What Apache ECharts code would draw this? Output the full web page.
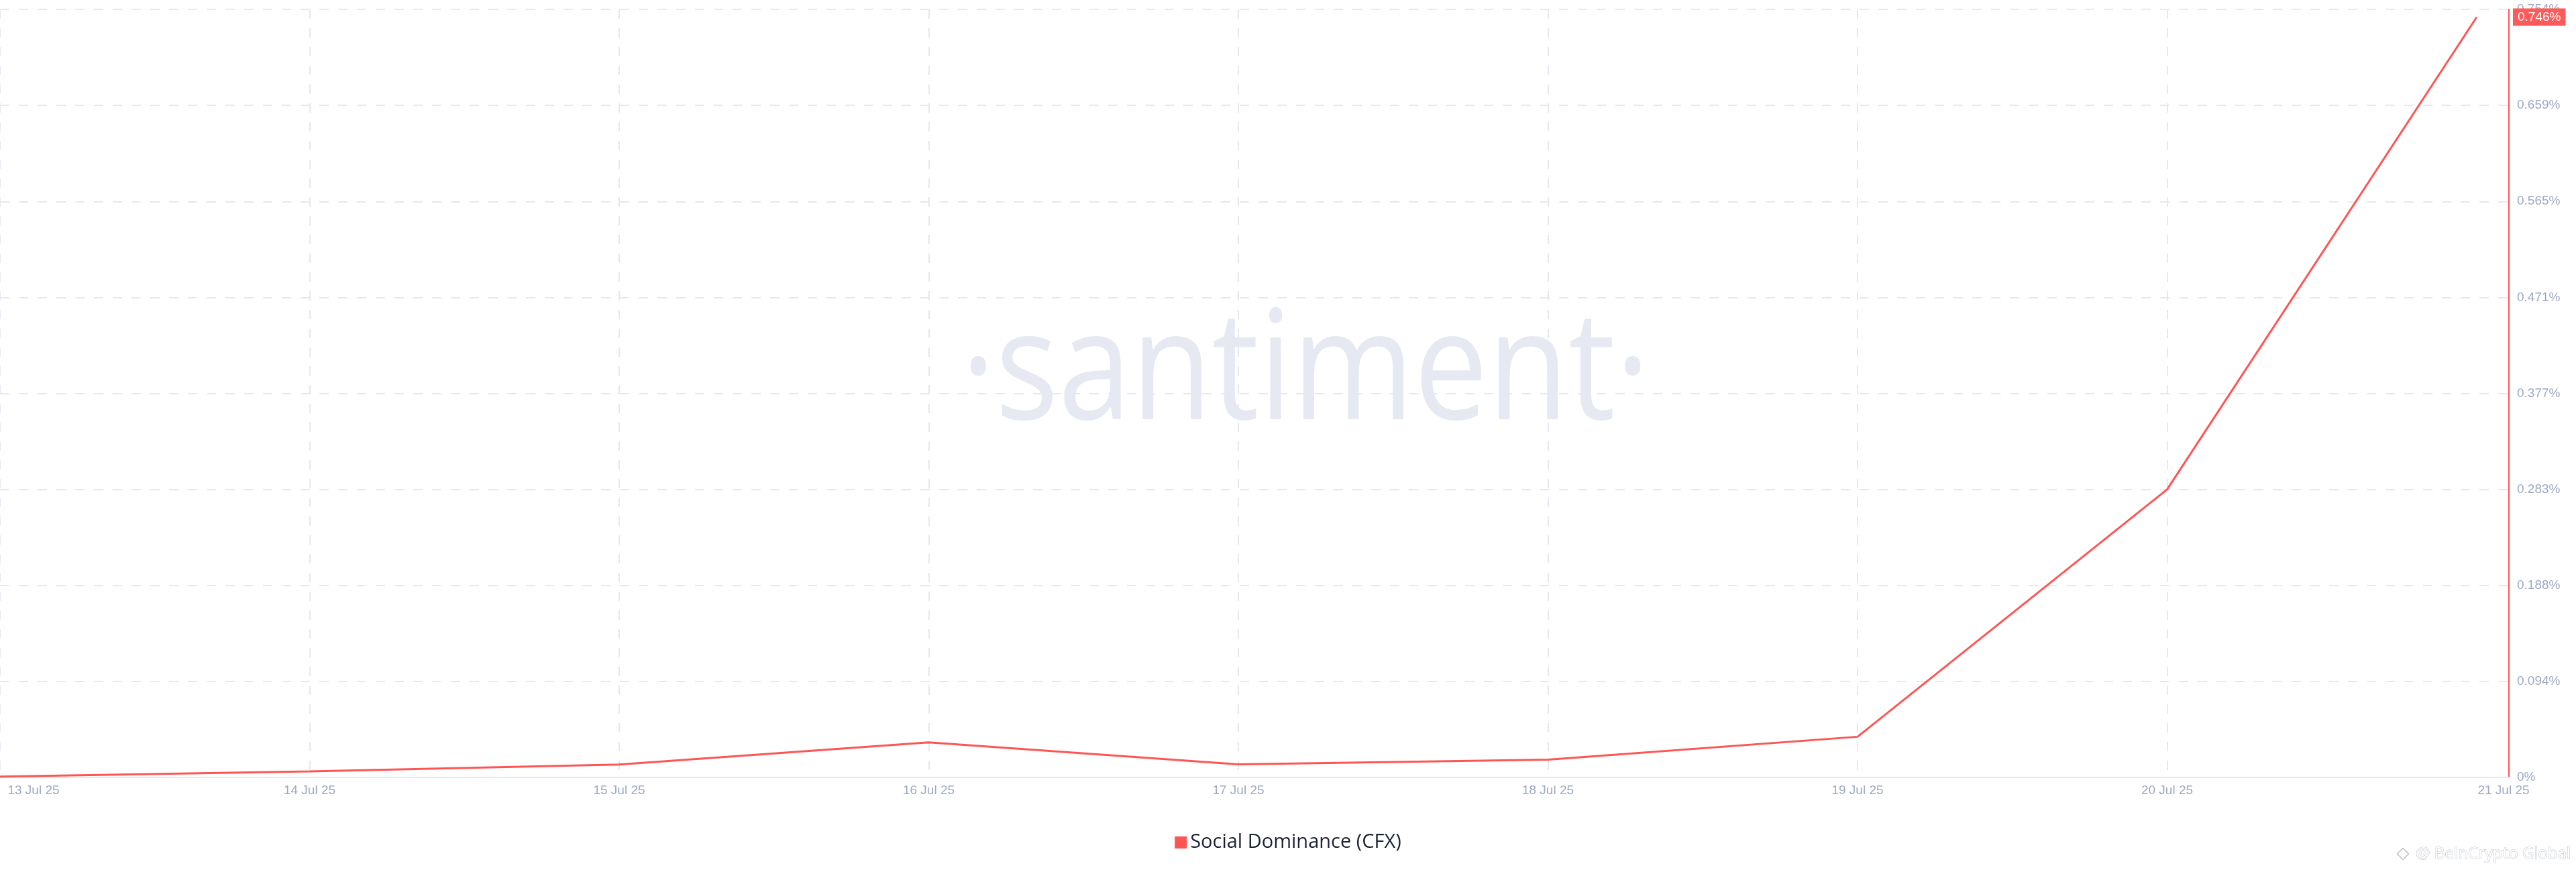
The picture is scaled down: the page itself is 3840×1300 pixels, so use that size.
<!DOCTYPE html>
<html>
<head>
<meta charset="utf-8">
<style>
  html, body { margin: 0; padding: 0; background: #ffffff; }
  #chart { width: 3840px; height: 1300px; }
</style>
<script src="https://cdn.jsdelivr.net/npm/echarts@6/dist/echarts.min.js"></script>
</head>
<body>
<div id="chart"></div>
<script>
// ---- data ----
const dates = ['13 Jul 25', '14 Jul 25', '15 Jul 25', '16 Jul 25', '17 Jul 25', '18 Jul 25', '19 Jul 25', '20 Jul 25', '21 Jul 25'];
const socialDominance = [0.0008, 0.0059, 0.0127, 0.0344, 0.0129, 0.0174, 0.0399, 0.2826, 0.746];
const yTickLabels = ['0%', '0.094%', '0.188%', '0.283%', '0.377%', '0.471%', '0.565%', '0.659%', '0.754%'];
const seriesName = 'Social Dominance (CFX)';
const watermarkText = '\u00B7santiment\u00B7';
const creditText = '@ BeInCrypto Global';

const Y_MAX = 0.7536;
const Y_INTERVAL = 0.0942;
const X_MAX = 8.104;

const RED = '#ff5454';
const GRID_COLOR = '#e5e8f1';
const LABEL_COLOR = '#9ea8c2';
const FONT = '"Liberation Sans", Arial, sans-serif';

const chart = echarts.init(document.getElementById('chart'), null, { renderer: 'canvas' });

const lastValue = socialDominance[socialDominance.length - 1];
const lastIndex = dates.length - 1;

const xSplitColors = [];
for (let i = 0; i < 12; i++) xSplitColors.push(i < lastIndex ? GRID_COLOR : 'rgba(0,0,0,0)');

const option = {
  backgroundColor: '#ffffff',
  animation: false,
  graphic: [
    {
      type: 'text',
      x: 1946,
      y: 560,
      scaleX: 0.86,
      silent: true,
      style: {
        text: watermarkText,
        font: '228px "Open Sans"',
        fill: '#e6e9f2',
        textAlign: 'center',
        textVerticalAlign: 'middle'
      }
    },
    {
      type: 'text',
      x: 3832,
      y: 1273,
      silent: true,
      style: {
        text: creditText,
        font: '24px "Open Sans"',
        fill: '#ffffff',
        stroke: '#b8bdca',
        lineWidth: 1,
        textAlign: 'right',
        textVerticalAlign: 'middle'
      }
    },
    {
      type: 'rect',
      x: 3582,
      y: 1273,
      rotation: Math.PI / 4,
      silent: true,
      shape: { x: -6, y: -6, width: 12, height: 12 },
      style: { fill: '#ffffff', stroke: '#b8bdca', lineWidth: 1.5 }
    }
  ],
  grid: {
    left: 0,
    right: 100,
    top: 14,
    bottom: 141,
    containLabel: false
  },
  legend: {
    data: [seriesName],
    left: 'center',
    top: 1236,
    icon: 'rect',
    itemWidth: 18,
    itemHeight: 18,
    itemGap: 11,
    textStyle: {
      fontFamily: '"Open Sans"',
      fontSize: 29,
      color: '#1b2236',
      lineHeight: 30
    }
  },
  xAxis: {
    type: 'value',
    min: 0,
    max: X_MAX,
    interval: 1,
    axisLine: { show: true, onZero: false, lineStyle: { color: GRID_COLOR, width: 2 } },
    axisTick: { show: false },
    splitLine: {
      show: true,
      showMaxLine: false,
      lineStyle: { color: xSplitColors, width: 2, type: [14, 14] }
    },
    axisLabel: {
      margin: 10,
      color: LABEL_COLOR,
      fontFamily: FONT,
      fontSize: 19,
      formatter: function (value) {
        if (!Number.isInteger(value) || value < 0 || value > lastIndex) return '';
        const txt = dates[value];
        if (value === 0) return '{first|' + txt + '}';
        if (value === lastIndex) return '{last|' + txt + '}';
        return txt;
      },
      rich: {
        first: { padding: [0, 0, 0, 100], color: LABEL_COLOR, fontSize: 19, fontFamily: FONT },
        last: { padding: [0, 0, 0, 80], color: LABEL_COLOR, fontSize: 19, fontFamily: FONT }
      }
    }
  },
  yAxis: {
    type: 'value',
    position: 'right',
    min: 0,
    max: Y_MAX,
    interval: Y_INTERVAL,
    axisLine: { show: true, onZero: false, lineStyle: { color: RED, width: 2 } },
    axisTick: { show: false },
    splitLine: {
      show: true,
      lineStyle: { color: GRID_COLOR, width: 2, type: [14, 14] }
    },
    axisLabel: {
      margin: 12,
      color: LABEL_COLOR,
      fontFamily: FONT,
      fontSize: 19,
      formatter: function (value, index) {
        if (yTickLabels[index] !== undefined) return yTickLabels[index];
        return value === 0 ? '0%' : value.toFixed(3) + '%';
      }
    }
  },
  series: [
    {
      name: seriesName,
      type: 'line',
      data: dates.map(function (d, i) { return [i, socialDominance[i]]; }),
      symbol: 'none',
      showSymbol: false,
      clip: false,
      itemStyle: { color: RED },
      lineStyle: { color: RED, width: 3 },
      z: 3,
      markLine: {
        silent: true,
        symbol: ['none', 'none'],
        lineStyle: { color: 'rgba(255,255,255,0)', width: 1, type: 'solid' },
        data: [{ yAxis: lastValue }],
        label: {
          show: true,
          position: 'end',
          distance: 6,
          offset: [0, 6],
          formatter: lastValue.toFixed(3) + '%',
          color: '#ffffff',
          backgroundColor: '#ff5a5a',
          opacity: 1,
          padding: [4, 7, 3, 7],
          fontFamily: FONT,
          fontSize: 19
        }
      }
    }
  ]
};

chart.setOption(option);
</script>
</body>
</html>
